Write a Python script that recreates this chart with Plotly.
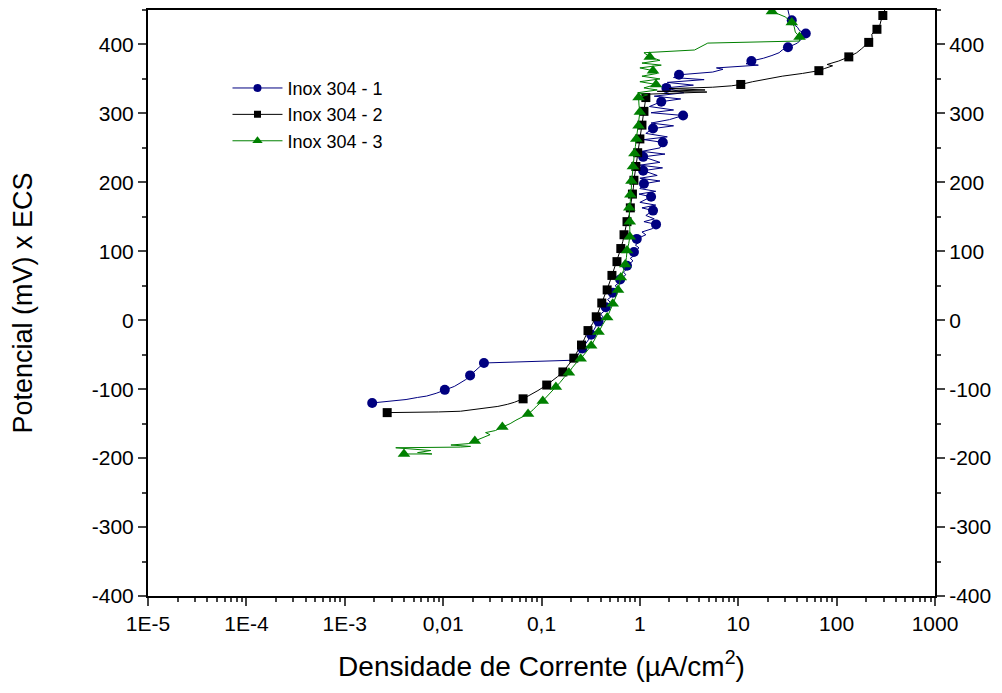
import plotly.graph_objects as go

# Inox 304 - 1 (full curve, mV vs uA/cm2)
pot_1 = [-120, -117, -115, -112, -110, -106, -101, -96, -92, -86, -80, -74, -68, -62,
         -58, -52, -46, -41, -34, -27, -21, -14, -7, -2, 5, 9, 14, 19, 26, 30, 35, 40,
         46, 50, 55, 59, 66, 70, 75, 79, 86, 90, 95, 99, 105, 109, 114, 118,
         124, 128, 133, 139, 143, 147, 152, 159, 163, 167, 171, 179, 183, 187, 191, 198,
         202, 206, 210, 217, 221, 225, 229, 237, 241, 245, 250, 258, 262, 266, 271, 278,
         282, 286, 291, 297, 301, 305, 310, 317, 321, 325, 330, 337, 341, 345, 349, 352,
         356, 360, 364, 366, 370, 372, 376, 380, 384, 388, 392, 396, 402, 408, 412, 416,
         420, 425, 430, 435, 442, 450]
dens_1 = [0.0019, 0.0032, 0.0042, 0.0055, 0.0068, 0.0085, 0.0104, 0.013, 0.0145, 0.017,
          0.0188, 0.021, 0.0235, 0.026, 0.21, 0.23, 0.245, 0.26, 0.28, 0.305, 0.32, 0.34,
          0.36, 0.38, 0.42, 0.40, 0.44, 0.45, 0.50, 0.47, 0.52, 0.53, 0.60, 0.56, 0.62,
          0.63, 0.72, 0.68, 0.75, 0.74, 0.85, 0.80, 0.90, 0.87, 0.98, 0.90, 1.0, 0.93,
          1.15, 1.05, 1.35, 1.46, 1.1, 1.4, 1.15, 1.36, 1.05, 1.45, 1.0, 1.30, 0.98, 1.45,
          1.0, 1.10, 1.6, 1.0, 1.5, 1.08, 1.7, 1.0, 1.6, 1.08, 1.8, 1.05, 1.6, 1.71, 1.1,
          1.9, 1.15, 1.36, 2.2, 1.3, 2.0, 2.75, 1.3, 2.2, 1.25, 1.65, 2.6, 1.4, 2.8, 1.86,
          3.5, 1.9, 4.5, 2.2, 2.5, 5.5, 7.0, 6.0, 16.0, 12.0, 13.6, 18.0, 22.0, 26.0, 28.0,
          32.0, 40.0, 44.0, 46.0, 48.6, 42.0, 40.0, 36.0, 35.0, 33.0, 32.0]
pot_1_mk = [-120, -101, -80, -62, -41, -21, -2, 19, 40, 59, 79, 99, 118, 139, 159, 179,
            198, 217, 237, 258, 278, 297, 317, 337, 356, 376, 396, 416, 435]
dens_1_mk = [0.0019, 0.0104, 0.0188, 0.026, 0.26, 0.32, 0.38, 0.45, 0.53, 0.63, 0.74,
             0.87, 0.93, 1.46, 1.36, 1.30, 1.10, 1.08, 1.08, 1.71, 1.36, 2.75, 1.65,
             1.86, 2.5, 13.6, 32.0, 48.6, 35.0]

# Inox 304 - 2
pot_2 = [-134, -134, -133, -132, -130, -128, -125, -122, -119, -114, -108, -102, -94,
         -88, -82, -75, -68, -61, -55, -46, -36, -26, -15, -5, 5, 15, 25, 35, 44, 54,
         65, 75, 85, 95, 104, 114, 124, 133, 143, 153, 163, 173, 183, 193, 203, 213,
         223, 233, 243, 253, 263, 273, 283, 293, 303, 313, 323, 328, 331, 332, 334,
         336, 338, 340, 342, 346, 350, 354, 358, 362, 365, 369, 371, 376, 382, 388,
         394, 403, 409, 415, 422, 428, 434, 442, 448, 452]
dens_2 = [0.0027, 0.005, 0.009, 0.015, 0.020, 0.026, 0.036, 0.045, 0.053, 0.065, 0.078,
          0.092, 0.113, 0.13, 0.145, 0.165, 0.18, 0.195, 0.213, 0.23, 0.255, 0.275,
          0.297, 0.33, 0.36, 0.385, 0.41, 0.44, 0.465, 0.49, 0.52, 0.55, 0.585, 0.61,
          0.64, 0.67, 0.69, 0.72, 0.74, 0.78, 0.80, 0.83, 0.84, 0.86, 0.87, 0.89, 0.91,
          0.93, 0.95, 0.98, 1.0, 1.03, 1.05, 1.07, 1.10, 1.12, 1.15, 1.25, 4.8, 1.5,
          4.6, 2.0, 5.5, 8.5, 10.6, 14.0, 19.0, 28.0, 45.0, 66.0, 75.0, 91.0, 80.0,
          105.0, 133.0, 160.0, 180.0, 212.0, 230.0, 228.0, 257.0, 275.0, 282.0, 295.0,
          305.0, 312.0]
pot_2_mk = [-134, -114, -94, -75, -55, -36, -15, 5, 25, 44, 65, 85, 104, 124, 143, 163,
            183, 203, 223, 243, 263, 283, 303, 323, 342, 362, 382, 403, 422, 442]
dens_2_mk = [0.0027, 0.065, 0.113, 0.165, 0.213, 0.255, 0.297, 0.36, 0.41, 0.465, 0.52,
             0.585, 0.64, 0.69, 0.74, 0.80, 0.84, 0.87, 0.91, 0.95, 1.0, 1.05, 1.10,
             1.15, 10.6, 66.0, 133.0, 212.0, 257.0, 295.0]

# Inox 304 - 3
pot_3 = [-194, -194, -192, -189, -185, -185, -184, -183, -181, -179, -175, -170, -166,
         -163, -160, -155, -150, -145, -141, -136, -130, -124, -117, -110, -104, -97,
         -90, -83, -76, -69, -62, -56, -47, -37, -27, -17, -6, 4, 14, 24, 34, 44, 53,
         62, 72, 81, 91, 101, 111, 121, 132, 143, 153, 163, 172, 182, 192, 202, 212,
         223, 232, 242, 252, 263, 272, 282, 292, 302, 312, 323, 327, 330, 334, 337,
         342, 346, 350, 354, 358, 362, 366, 370, 373, 377, 382, 388, 392, 402, 405,
         411, 418, 426, 432, 440, 448, 455]
dens_3 = [0.0040, 0.0077, 0.0055, 0.0075, 0.0033, 0.008, 0.015, 0.019, 0.012, 0.018,
          0.021, 0.025, 0.030, 0.027, 0.034, 0.040, 0.048, 0.055, 0.062, 0.073, 0.082,
          0.09, 0.103, 0.115, 0.125, 0.14, 0.155, 0.17, 0.19, 0.205, 0.225, 0.25, 0.28,
          0.32, 0.35, 0.38, 0.42, 0.465, 0.50, 0.53, 0.57, 0.60, 0.62, 0.64, 0.68, 0.71,
          0.73, 0.74, 0.77, 0.79, 0.79, 0.79, 0.78, 0.78, 0.80, 0.80, 0.82, 0.82, 0.84,
          0.85, 0.87, 0.88, 0.90, 0.92, 0.95, 0.97, 0.99, 1.0, 0.98, 0.97, 1.2, 0.95,
          1.5, 1.1, 1.46, 1.0, 1.6, 1.05, 1.5, 1.36, 1.0, 1.65, 1.05, 1.6, 1.26, 1.1,
          3.6, 4.9, 42.0, 42.0, 38.0, 37.0, 35.0, 30.0, 22.0, 21.0]
pot_3_mk = [-194, -175, -155, -136, -117, -97, -76, -56, -37, -17, 4, 24, 44, 62, 81,
            101, 121, 143, 163, 182, 202, 223, 242, 263, 282, 302, 323, 342, 362, 382,
            411, 432, 448]
dens_3_mk = [0.0040, 0.021, 0.040, 0.073, 0.103, 0.14, 0.19, 0.25, 0.32, 0.38, 0.465,
             0.53, 0.60, 0.64, 0.71, 0.74, 0.79, 0.79, 0.78, 0.80, 0.82, 0.85, 0.88,
             0.92, 0.97, 1.0, 0.97, 1.46, 1.36, 1.26, 42.0, 35.0, 22.0]

series = [
    ("Inox 304 - 1", dens_1, pot_1, dens_1_mk, pot_1_mk, "#000080", "circle", 10),
    ("Inox 304 - 2", dens_2, pot_2, dens_2_mk, pot_2_mk, "#000000", "square", 9),
    ("Inox 304 - 3", dens_3, pot_3, dens_3_mk, pot_3_mk, "#008000", "triangle-up", 11),
]

x_ticks = [1e-5, 1e-4, 1e-3, 1e-2, 1e-1, 1, 10, 100, 1000]
x_labels = ["1E-5", "1E-4", "1E-3", "0,01", "0,1", "1", "10", "100", "1000"]
x_minor = [k * 10.0 ** d for d in range(-5, 3) for k in range(2, 10)]
y_ticks = [-400, -300, -200, -100, 0, 100, 200, 300, 400]
y_labels = ["-400", "-300", "-200", "-100", "0", "100", "200", "300", "400"]
y_minor = [-350, -250, -150, -50, 50, 150, 250, 350, 450]

FONT = "Liberation Sans, Arial, sans-serif"

fig = go.Figure()
for name, xs, ys, xm, ym, color, sym, size in series:
    fig.add_trace(go.Scatter(x=xs, y=ys, mode="lines", line=dict(color=color, width=1),
                             showlegend=False, hoverinfo="skip"))
    fig.add_trace(go.Scatter(x=xm, y=ym, mode="markers", showlegend=False,
                             marker=dict(color=color, symbol=sym, size=size)))
    # legend entry
    fig.add_trace(go.Scatter(x=[None], y=[None], mode="lines+markers", name=name,
                             line=dict(color=color, width=1),
                             marker=dict(color=color, symbol=sym, size=size - 2)))

# right-hand axis copy
fig.add_trace(go.Scatter(x=[None], y=[None], yaxis="y2", showlegend=False))

yax = dict(range=[-400, 450], tickmode="array", tickvals=y_ticks, ticktext=y_labels,
           ticks="outside", ticklen=8, tickwidth=2, showline=True, linewidth=2,
           linecolor="black", showgrid=False, zeroline=False, automargin=False,
           tickfont=dict(size=21, color="black"),
           minor=dict(tickvals=y_minor, ticks="outside", ticklen=4, tickwidth=2,
                      showgrid=False))

# page body has an 8px margin, so margins are offset to land the plot box
# where the reference has it
fig.update_layout(
    width=1002, height=693,
    margin=dict(l=140, r=75, t=2, b=105),
    plot_bgcolor="white", paper_bgcolor="white",
    font=dict(family=FONT, color="black"),
    xaxis=dict(type="log", range=[-5, 3], tickvals=x_ticks, ticktext=x_labels,
               ticks="outside", ticklen=8, tickwidth=2, showline=True, linewidth=2,
               linecolor="black", mirror=True, showgrid=False, zeroline=False,
               automargin=False, tickfont=dict(size=21, color="black"),
               minor=dict(tickvals=x_minor, ticks="outside", ticklen=4, tickwidth=1.5,
                          showgrid=False),
               title=dict(text="Densidade de Corrente (µA/cm<sup>2</sup>)",
                          font=dict(size=28), standoff=22)),
    yaxis=dict(**yax, title=dict(text="Potencial (mV) x ECS", font=dict(size=27),
                                 standoff=62)),
    yaxis2=dict(**yax, overlaying="y", side="right", anchor="x"),
    legend=dict(x=0.101, y=0.898, xanchor="left", yanchor="top",
                bgcolor="rgba(0,0,0,0)", font=dict(size=18), tracegroupgap=0,
                itemwidth=50),
)

fig.write_html("out.html")
